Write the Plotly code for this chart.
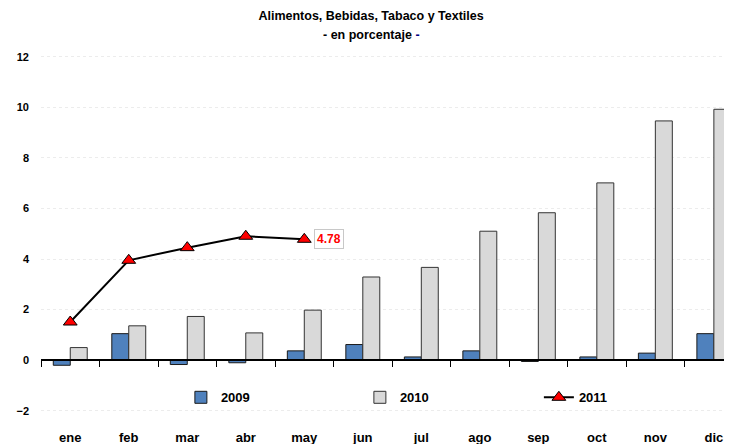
import plotly.graph_objects as go

months = ["ene", "feb", "mar", "abr", "may", "jun", "jul", "ago", "sep", "oct", "nov", "dic"]
v2009 = [-0.2, 1.05, -0.17, -0.1, 0.37, 0.62, 0.13, 0.37, -0.05, 0.13, 0.28, 1.05]
v2010 = [0.5, 1.36, 1.73, 1.08, 1.98, 3.29, 3.67, 5.1, 5.83, 7.01, 9.46, 9.92]
v2011 = [1.51, 3.95, 4.45, 4.9, 4.78]

yr = [-2.6, 12.5]
xr = [-0.5, 11.31]
font = "Liberation Sans, Arial, sans-serif"

fig = go.Figure()
fig.add_trace(go.Bar(x=months, y=v2009, name="2009",
                     marker=dict(color="#4F81BD", line=dict(color="#1a1a1a", width=1))))
fig.add_trace(go.Bar(x=months, y=v2010, name="2010",
                     marker=dict(color="#D9D9D9", line=dict(color="#333333", width=1))))
fig.add_trace(go.Scatter(x=months[:len(v2011)], y=v2011, name="2011", mode="lines+markers",
                         line=dict(color="black", width=2),
                         marker=dict(symbol="triangle-up", size=12, color="#FF0000",
                                     line=dict(color="black", width=1))))
# invisible trace so the zero-axis overlay gets drawn
fig.add_trace(go.Scatter(x=months, y=[None] * 12, xaxis="x2", showlegend=False,
                         hoverinfo="skip"))

fig.add_annotation(x=months[len(v2011) - 1], y=v2011[-1], text="<b>%.2f</b>" % v2011[-1],
                   showarrow=False, xshift=25, font=dict(color="#FF0000", size=12, family=font),
                   bgcolor="white", bordercolor="#C8C8C8", borderwidth=1, borderpad=2)

# second title line
fig.add_annotation(xref="paper", yref="paper", x=0.478, y=1.0236, xanchor="center",
                   yanchor="middle", showarrow=False,
                   text="<b>- en porcentaje <span style='color:#000080'>-</span></b>",
                   font=dict(size=12.5, family=font, color="black"))

# page body adds an 8px offset, so margins are shifted by that amount
fig.update_layout(
    width=732, height=444,
    margin=dict(l=33, r=8, t=36, b=26, autoexpand=False),
    paper_bgcolor="white", plot_bgcolor="white",
    font=dict(family=font, color="black"),
    title=dict(
        text="<b>Alimentos, Bebidas, Tabaco y Textiles</b>",
        x=0.496, xanchor="center", y=1 - 8 / 444, yanchor="middle",
        font=dict(size=12.5, family=font)),
    barmode="group", bargap=0.42, bargroupgap=0,
    showlegend=True,
    legend=dict(orientation="h", x=0.591, xanchor="center", y=0.075, yanchor="middle",
                entrywidth=134, font=dict(size=13, weight="bold"),
                bgcolor="rgba(0,0,0,0)", traceorder="normal"),
    xaxis=dict(type="category", categoryorder="array", categoryarray=months, range=xr,
               showgrid=False, zeroline=False, showline=False, ticks="",
               tickfont=dict(size=13, weight="bold"), ticklabelstandoff=2),
    xaxis2=dict(type="category", categoryorder="array", categoryarray=months, range=xr,
                overlaying="x", anchor="free", position=(0 - yr[0]) / (yr[1] - yr[0]),
                showline=True, linecolor="black", linewidth=1.5,
                ticks="outside", tickson="boundaries", ticklen=6, tickcolor="black",
                tickwidth=1, showticklabels=False, showgrid=False, zeroline=False),
    yaxis=dict(range=yr, tickvals=[-2, 0, 2, 4, 6, 8, 10, 12], showgrid=True,
               gridcolor="#ececec", griddash="dot", gridwidth=1, zeroline=False,
               showline=False, ticks="", tickfont=dict(size=11, weight="bold"),
               ticklabelstandoff=11),
)

fig.write_html("out.html")
